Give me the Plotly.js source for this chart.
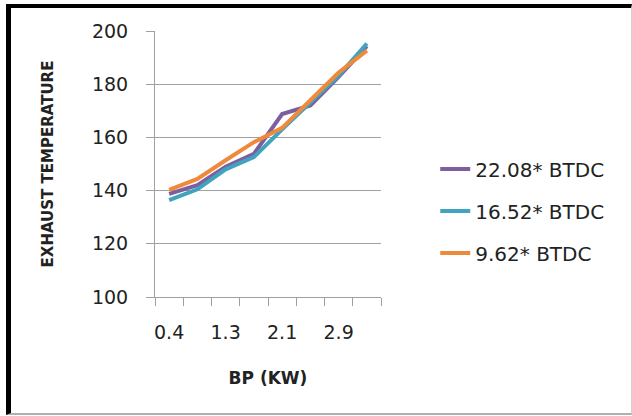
<!DOCTYPE html>
<html>
<head>
<meta charset="utf-8">
<script src="https://cdn.plot.ly/plotly-3.0.1.min.js"></script>
<style>
  html, body { margin: 0; padding: 0; background: #fff; }
  #wrap { position: relative; width: 632px; height: 416px; }
  #chart { position: absolute; left: 0; top: 0; width: 632px; height: 416px; }
  #frame { position: absolute; left: 6px; top: 4px; width: 626px; height: 411px; box-sizing: border-box;
           border-top: 4px solid #000; border-left: 5px solid #000; border-right: 1px solid #d0d0d0;
           border-bottom: 2px solid #b0b0b0; pointer-events: none; }
</style>
</head>
<body>
<div id="wrap"><div id="chart"></div><div id="frame"></div></div>
<script>
const bp = ['0.4', '0.8', '1.3', '1.7', '2.1', '2.5', '2.9', '3.3'];
const tickLabels = ['0.4', '', '1.3', '', '2.1', '', '2.9', ''];
const seriesNames = ['22.08* BTDC', '16.52* BTDC', '9.62* BTDC'];
const temp2208 = [138.8, 142.0, 149.0, 153.8, 168.8, 172.0, 182.8, 194.3];
const temp1652 = [136.4, 140.5, 148.0, 152.6, 163.0, 173.2, 183.2, 195.3];
const temp962  = [140.3, 144.4, 151.4, 158.2, 163.6, 173.8, 184.4, 192.6];
const colors = ['#7d5fa0', '#40a4bf', '#ef8a3c'];

const ys = [temp2208, temp1652, temp962];
const traces = ys.map((y, i) => ({
  x: bp, y: y, type: 'scatter', mode: 'lines', name: seriesNames[i],
  legendgroup: 'g' + i,
  line: { color: colors[i], width: 4 }
}));

const font = 'DejaVu Sans, sans-serif';
const layout = {
  width: 632, height: 416,
  margin: { l: 155, r: 251, t: 31, b: 119 },
  paper_bgcolor: '#fff', plot_bgcolor: '#fff',
  font: { family: font, color: '#222', size: 19 },
  showlegend: true,
  legend: { x: 1.24, xanchor: 'left', y: 0.323, yanchor: 'middle', tracegroupgap: 13,
            font: { family: font, size: 20, color: '#222' }, bgcolor: 'rgba(0,0,0,0)' },
  xaxis: {
    type: 'category', categoryorder: 'array', categoryarray: bp,
    range: [-0.5, bp.length - 0.5],
    tickmode: 'array', tickvals: bp, ticktext: tickLabels, tickangle: 0,
    tickson: 'boundaries', ticks: 'outside', ticklen: 8, tickcolor: '#a0a0a0', tickwidth: 1,
    showline: true, linecolor: '#a0a0a0', linewidth: 1, showgrid: false, zeroline: false,
    ticklabelstandoff: 18,
    tickfont: { family: font, size: 19, color: '#222' },
    title: { text: 'BP (KW)', font: { family: font, size: 17, color: '#222', weight: 'bold' }, standoff: 30 }
  },
  yaxis: {
    range: [100, 200], dtick: 20, tick0: 100,
    ticks: 'outside', ticklen: 8, tickcolor: '#a0a0a0', tickwidth: 1,
    showline: true, linecolor: '#a0a0a0', linewidth: 1,
    showgrid: true, gridcolor: '#a0a0a0', gridwidth: 1, zeroline: false,
    ticklabelstandoff: 14,
    tickfont: { family: font, size: 19, color: '#222' },
    title: { text: 'EXHAUST TEMPERATURE', font: { family: font, size: 15, color: '#222', weight: 'bold' }, standoff: 34 }
  }
};

Plotly.newPlot('chart', traces, layout, { displayModeBar: false, staticPlot: true });
</script>
</body>
</html>
